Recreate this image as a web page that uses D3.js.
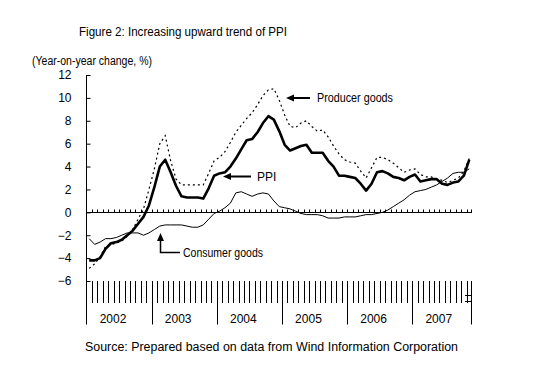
<!DOCTYPE html>
<html><head><meta charset="utf-8">
<script src="https://cdn.jsdelivr.net/npm/d3@7"></script>
<style>
body{margin:0;background:#fff;}
svg{display:block;font-family:"Liberation Sans",Arial,sans-serif;}
text{fill:#000;}
</style></head>
<body><svg id="c" width="550" height="381"></svg>
<script>
const years = ["2002","2003","2004","2005","2006","2007"];
const monthsPerYear = [12,12,12,12,12,11];
const yTicks = [12,10,8,6,4,2,0,-2,-4,-6];
const ppi = [-4.2,-4.2,-4.0,-3.2,-2.7,-2.6,-2.4,-2.0,-1.6,-1.0,-0.4,0.6,
  2.2,4.0,4.6,3.5,2.3,1.4,1.3,1.3,1.3,1.2,2.1,3.2,
  3.4,3.5,4.0,4.7,5.5,6.3,6.4,7.0,7.8,8.4,8.1,7.1,
  5.9,5.4,5.6,5.8,5.9,5.2,5.2,5.2,4.5,4.0,3.2,3.2,
  3.1,3.0,2.5,1.9,2.5,3.5,3.6,3.4,3.1,3.0,2.8,3.1,
  3.3,2.7,2.8,2.9,2.9,2.5,2.4,2.6,2.7,3.2,4.6];
const producer = [-4.9,-4.5,-3.9,-3.0,-2.8,-2.7,-2.5,-2.1,-1.5,-0.6,0.3,2.0,
  3.8,6.0,6.7,4.5,2.9,2.4,2.4,2.4,2.4,2.4,3.4,4.5,
  4.8,5.3,6.1,7.0,7.6,8.2,8.7,9.4,10.2,10.7,10.8,9.8,
  8.5,7.5,7.4,7.8,8.0,7.5,7.1,7.2,6.6,5.8,5.1,4.6,
  4.4,4.3,3.6,3.0,3.9,4.8,4.8,4.6,4.3,3.9,3.5,3.7,
  3.8,3.3,3.1,3.1,2.9,2.8,2.6,2.8,3.0,3.6,4.7];
const consumer = [-2.3,-2.8,-2.6,-2.3,-2.3,-2.2,-2.0,-1.8,-1.8,-1.8,-2.0,-1.8,
  -1.5,-1.2,-1.1,-1.1,-1.1,-1.1,-1.2,-1.3,-1.3,-1.1,-0.6,-0.1,
  0.1,0.4,0.8,1.7,1.8,1.6,1.4,1.6,1.7,1.6,1.0,0.5,
  0.4,0.3,0.1,-0.1,-0.2,-0.2,-0.2,-0.3,-0.5,-0.5,-0.5,-0.4,
  -0.4,-0.4,-0.3,-0.2,-0.2,-0.1,0.0,0.2,0.5,0.8,1.1,1.5,
  1.8,1.9,2.0,2.2,2.4,2.7,3.0,3.4,3.5,3.5,3.8];

const months = [];
years.forEach((y,i)=>{ for(let m=1;m<=monthsPerYear[i];m++) months.push(y+"-"+String(m).padStart(2,"0")); });

const svg = d3.select("#c");
const x = d3.scaleBand().domain(months).range([86.5, 472]).paddingInner(0).paddingOuter(0);
const y = d3.scaleLinear().domain([-6,12]).range([281,75]);
const bw = x.bandwidth();
const cx = d => x(d) + bw/2;

// Title texts
svg.append("text").attr("x",79).attr("y",36).attr("font-size",12)
  .attr("textLength",208).attr("lengthAdjust","spacingAndGlyphs")
  .text("Figure 2: Increasing upward trend of PPI");
svg.append("text").attr("x",32).attr("y",65).attr("font-size",12)
  .attr("textLength",120).attr("lengthAdjust","spacingAndGlyphs")
  .text("(Year-on-year change, %)");

// Y axis
const yAxis = d3.axisLeft(y).tickValues(yTicks).tickSizeInner(-4).tickSizeOuter(0).tickPadding(15)
  .tickFormat(d => d < 0 ? "\u2212" + Math.abs(d) : d);
const gy = svg.append("g").attr("transform","translate(86.5,0)").call(yAxis);
gy.select(".domain").remove();
gy.selectAll(".tick line").attr("stroke","#000");
gy.selectAll(".tick text").attr("font-size",12).attr("font-family","Liberation Sans,Arial,sans-serif").attr("fill","#000");
svg.append("line").attr("x1",86.5).attr("x2",86.5).attr("y1",y(12)).attr("y2",324.5).attr("stroke","#000");

// zero line with month ticks
const y0 = Math.round(y(0)) + 0.5;
svg.append("line").attr("x1",86.5).attr("x2",472).attr("y1",y0).attr("y2",y0).attr("stroke","#000");
const gz = svg.append("g");
months.slice(1).forEach(m => {
  const xx = Math.round(x(m)) + 0.5;
  gz.append("line").attr("x1",xx).attr("x2",xx).attr("y1",y0).attr("y2",y0-3).attr("stroke","#000");
});
gz.append("line").attr("x1",471.5).attr("x2",471.5).attr("y1",y0).attr("y2",y0-3).attr("stroke","#000");

// bottom category axis
const gb = svg.append("g");
const yTop = Math.round(y(-6));
months.forEach((m,i) => {
  if (i===0) return;
  const xx = Math.round(x(m)) + 0.5;
  const isYear = m.endsWith("-01");
  gb.append("line").attr("x1",xx).attr("x2",xx).attr("y1",yTop).attr("y2",isYear?324.5:303)
    .attr("stroke","#000");
});
gb.append("line").attr("x1",471.5).attr("x2",471.5).attr("y1",yTop).attr("y2",324.5).attr("stroke","#000");
gb.append("line").attr("x1",465).attr("x2",472).attr("y1",295.5).attr("y2",295.5).attr("stroke","#000");
gb.append("line").attr("x1",465).attr("x2",472).attr("y1",301.5).attr("y2",301.5).attr("stroke","#000");
years.forEach(yr => {
  const start = x(yr+"-01");
  svg.append("text").attr("x",start+26.5).attr("y",323).attr("font-size",12)
    .attr("text-anchor","middle").text(yr);
});

// lines
const line = d3.line().x((d,i)=>cx(months[i])).y(d=>y(d));
svg.append("path").datum(consumer).attr("d",line).attr("fill","none").attr("stroke","#000").attr("stroke-width",1);
svg.append("path").datum(producer).attr("d",line).attr("fill","none").attr("stroke","#000").attr("stroke-width",1.2).attr("stroke-dasharray","2,3");
svg.append("path").datum(ppi).attr("d",line).attr("fill","none").attr("stroke","#000").attr("stroke-width",2.6).attr("stroke-linejoin","round");

// annotations
function arrowLeft(x1, x2, yy){
  svg.append("line").attr("x1",x1).attr("x2",x2+6).attr("y1",yy).attr("y2",yy).attr("stroke","#000").attr("stroke-width",2);
  svg.append("path").attr("d",`M${x2},${yy} L${x2+8},${yy-3.5} L${x2+8},${yy+3.5} Z`).attr("fill","#000");
}
arrowLeft(310, 286, 98);
svg.append("text").attr("x",317).attr("y",102).attr("font-size",12)
  .attr("textLength",76).attr("lengthAdjust","spacingAndGlyphs").text("Producer goods");
arrowLeft(251, 223, 176.5);
svg.append("text").attr("x",257).attr("y",181).attr("font-size",12).text("PPI");
// consumer arrow
svg.append("path").attr("d","M160.5,240 L160.5,252.5 L180,252.5").attr("fill","none").attr("stroke","#000").attr("stroke-width",1.5);
svg.append("path").attr("d","M160.5,233 L157,241 L164,241 Z").attr("fill","#000");
svg.append("text").attr("x",183).attr("y",257).attr("font-size",12)
  .attr("textLength",80).attr("lengthAdjust","spacingAndGlyphs").text("Consumer goods");

svg.append("text").attr("x",85).attr("y",351).attr("font-size",12)
  .attr("textLength",373).attr("lengthAdjust","spacingAndGlyphs")
  .text("Source: Prepared based on data from Wind Information Corporation");
</script></body></html>
